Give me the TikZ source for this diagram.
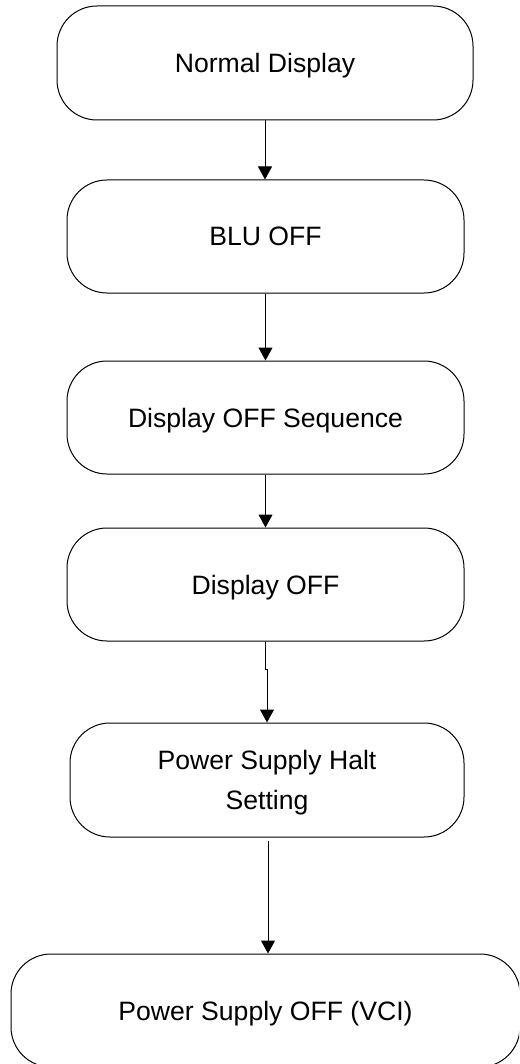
\documentclass[tikz,border=0pt]{standalone}
\usepackage{fontspec}
\setmainfont{Liberation Sans}
\usetikzlibrary{arrows.meta}
\tikzset{
  stepbox/.style={draw, line width=0.5pt, rounded corners=20pt, align=center,
    minimum width=198.5pt, minimum height=56.5pt, inner sep=0pt, text depth=0pt,
    font=\fontsize{13.3}{20}\selectfont},
  flow/.style={line width=0.5pt, -{Triangle[width=7pt,length=6.5pt]}}
}
\begin{document}
\begin{tikzpicture}[x=0.5pt, y=-0.5pt]
        \clip (0,0) rectangle (519,1064);
        \node[stepbox, minimum width=208pt, minimum height=57pt] (normal) at (265,63) {Normal Display};
        \node[stepbox] (blu) at (265.5,236.5) {BLU OFF};
        \node[stepbox] (seq) at (265.5,417.5) {Display OFF Sequence};
        \node[stepbox] (dispoff) at (265.5,584.5) {Display OFF};
        \node[stepbox, minimum width=197pt, minimum height=57pt] (halt) at (267,780) {Power Supply Halt\\Setting};
        \node[stepbox, minimum width=254.5pt] (psoff) at (265.5,1010.5) {Power Supply OFF (VCI)};

        \draw[flow] (normal.south) to (normal.south |- blu.north);
        \draw[flow] (blu.south) to (seq.north);
        \draw[flow] (seq.south) to (dispoff.north);
        \draw[flow] (dispoff.south) -- ++(0,28) -| (halt.north);
        \draw[flow] ([xshift=0.5pt,yshift=-1.5pt]halt.south) to ([xshift=0.5pt]halt.south |- psoff.north);
\end{tikzpicture}
\end{document}
